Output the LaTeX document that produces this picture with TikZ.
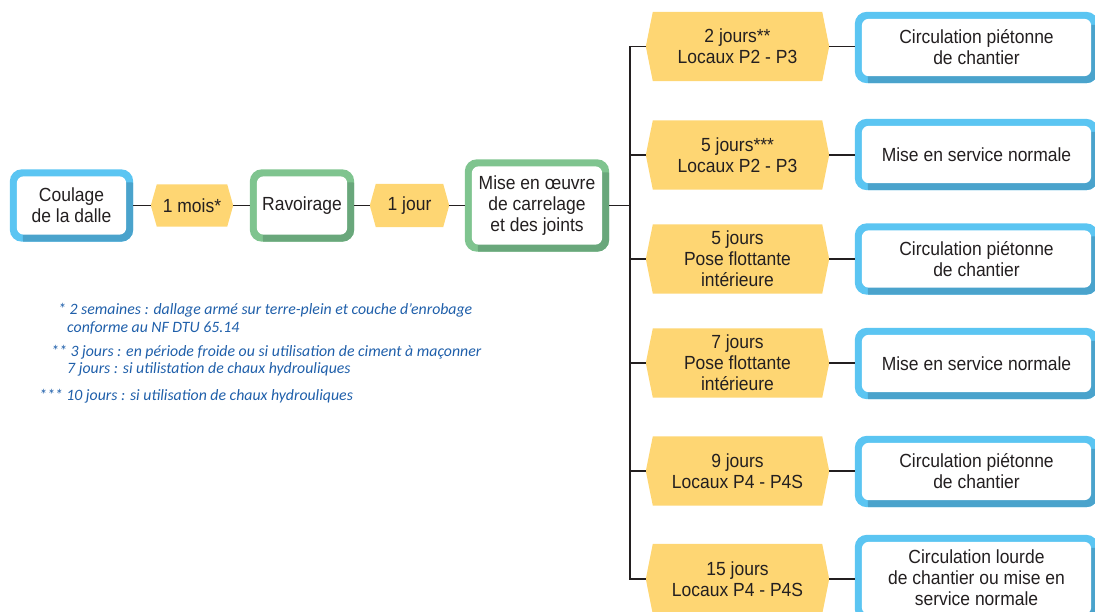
\documentclass[tikz,border=0pt]{standalone}
\usepackage{fontspec}
\setmainfont{Liberation Sans}[FakeStretch=0.92]
\newfontfamily\notefont{Carlito}
\usetikzlibrary{calc,backgrounds}
\definecolor{lblue}{HTML}{5BC5F2}
\definecolor{dblue}{HTML}{4AA3CC}
\definecolor{lgreen}{HTML}{7FC48F}
\definecolor{dgreen}{HTML}{69A77B}
\definecolor{hexfill}{HTML}{FED673}
\definecolor{ink}{HTML}{231F20}
\definecolor{noteblue}{HTML}{1F5FAA}
\tikzset{
  boxn/.style={inner sep=0pt, align=center, text=ink, font=\fontsize{19}{21}\selectfont},
  hexn/.style={inner sep=0pt, align=center, text=ink, font=\fontsize{19}{21}\selectfont},
  conn/.style={draw=ink, line width=1.3pt},
  note/.style={inner sep=0pt, text=noteblue, font=\notefont\itshape\fontsize{15.8}{18}\selectfont}
}
\newcommand\stagebox[3]{%
  \begin{pgfonlayer}{background}
    \fill[#2, rounded corners=12pt] (#1.north west) rectangle (#1.south east);
    \begin{scope}
      \clip[rounded corners=12pt] (#1.north west) rectangle (#1.south east);
      \fill[#3, rounded corners=7pt] ($(#1.north west)+(13,13)$) rectangle ($(#1.south east)+(5,5)$);
    \end{scope}
    \fill[white, rounded corners=7pt] ($(#1.north west)+(7,7)$) rectangle ($(#1.south east)+(-7,-7)$);
  \end{pgfonlayer}}
\newcommand\hexshape[2]{%
  \begin{pgfonlayer}{background}
    \fill[hexfill] (#1.west) -- ($(#1.north west)+(#2,0)$) -- ($(#1.north east)+(-#2,0)$) -- (#1.east)
      -- ($(#1.south east)+(-#2,0)$) -- ($(#1.south west)+(#2,0)$) -- cycle;
  \end{pgfonlayer}}
\begin{document}
\begin{tikzpicture}[x=1pt,y=-1pt]
\useasboundingbox (0,0) rectangle (1095,612);
% left chain
\node[boxn, minimum width=123pt, minimum height=72pt] (coulage) at (71.5,205.5) {Coulage\\de la dalle};
\stagebox{coulage}{lblue}{dblue}
\node[hexn, minimum width=82pt, minimum height=42pt] (mois) at (192,205.5) {1 mois*};
\hexshape{mois}{6}
\node[boxn, minimum width=104pt, minimum height=72pt] (ravoir) at (302,205.5) {Ravoirage};
\stagebox{ravoir}{lgreen}{dgreen}
\node[hexn, minimum width=79pt, minimum height=43pt] (jour) at (409.5,205.5) {1 jour};
\hexshape{jour}{6}
\node[boxn, minimum width=144pt, minimum height=92pt] (mise) at (537,205.5) {Mise en œuvre\\de carrelage\\et des joints};
\stagebox{mise}{lgreen}{dgreen}
\draw[conn] (coulage.east) -- (mois.west);
\draw[conn] (mois.east) -- (ravoir.west);
\draw[conn] (ravoir.east) -- (jour.west);
\draw[conn] (jour.east) -- (mise.west);
% right column
\node[hexn, minimum width=183pt, minimum height=69pt] (h1) at (737.5,46.5) {2 jours**\\Locaux P2 - P3};
\node[hexn, minimum width=183pt, minimum height=69pt] (h2) at (737.5,155) {5 jours***\\Locaux P2 - P3};
\node[hexn, minimum width=183pt, minimum height=69pt] (h3) at (737.5,259) {5 jours\\Pose flottante\\intérieure};
\node[hexn, minimum width=183pt, minimum height=69pt] (h4) at (737.5,363) {7 jours\\Pose flottante\\intérieure};
\node[hexn, minimum width=183pt, minimum height=69pt] (h5) at (737.5,471) {9 jours\\Locaux P4 - P4S};
\node[hexn, minimum width=183pt, minimum height=70pt] (h6) at (737.5,579) {15 jours\\Locaux P4 - P4S};
\foreach \h in {h1,h2,h3,h4,h5,h6}{\hexshape{\h}{7}}
\node[boxn, minimum width=243pt, minimum height=71pt] (b1) at (976.5,47.5) {Circulation piétonne\\de chantier};
\node[boxn, minimum width=243pt, minimum height=71pt] (b2) at (976.5,154.5) {Mise en service normale};
\node[boxn, minimum width=243pt, minimum height=71pt] (b3) at (976.5,259) {Circulation piétonne\\de chantier};
\node[boxn, minimum width=243pt, minimum height=71pt] (b4) at (976.5,363.5) {Mise en service normale};
\node[boxn, minimum width=243pt, minimum height=71pt] (b5) at (976.5,471.5) {Circulation piétonne\\de chantier};
\node[boxn, minimum width=243pt, minimum height=86pt] (b6) at (976.5,578) {Circulation lourde\\de chantier ou mise en\\service normale};
\foreach \b in {b1,b2,b3,b4,b5,b6}{\stagebox{\b}{lblue}{dblue}}
\foreach \i in {1,...,6}{\draw[conn] (h\i.east) -- (h\i.east -| b\i.west);}
\coordinate (tr) at (630,205.5);
\draw[conn] (mise.east) -- (tr);
\draw[conn] (h1.west) -- (h1.west -| tr) -- (h6.west -| tr) -- (h6.west);
\foreach \i in {2,3,4,5}{\draw[conn] (h\i.west) -- (h\i.west -| tr);}
% notes
\node[note, anchor=base west] (n1) at (58,315) {* 2 semaines : dallage armé sur terre-plein et couche d’enrobage};
\node[note, anchor=base west] (n2) at (67,332) {conforme au NF DTU 65.14};
\node[note, anchor=base west] (n3) at (51,356) {** 3 jours : en période froide ou si utilisation de ciment à maçonner};
\node[note, anchor=base west] (n4) at (67,373) {7 jours : si utilistation de chaux hydrouliques};
\node[note, anchor=base west] (n5) at (39,400) {*** 10 jours : si utilisation de chaux hydrouliques};
\end{tikzpicture}
\end{document}
